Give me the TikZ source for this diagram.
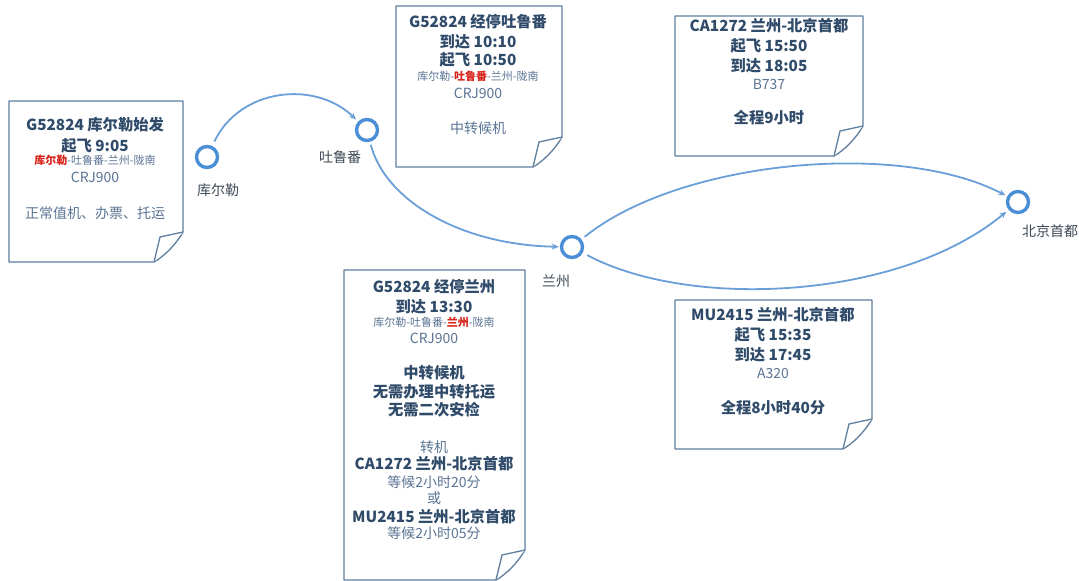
\documentclass[tikz,border=0pt]{standalone}
\usepackage{fontspec}
\setmainfont{Noto Sans CJK SC}
\usetikzlibrary{arrows.meta}
\definecolor{ring}{HTML}{4A8FD6}
\definecolor{link}{HTML}{6A9FD8}
\definecolor{frame}{HTML}{5E7E9E}
\definecolor{ttl}{HTML}{2F4B69}
\definecolor{reg}{HTML}{5A7494}
\definecolor{hot}{HTML}{D8231B}
\definecolor{lbl}{HTML}{3E4955}
\tikzset{
 station/.style={circle,draw=ring,line width=3.4pt,minimum size=21pt,inner sep=0pt,fill=white},
 place/.style={text=lbl,font=\fontsize{14}{16}\selectfont,inner sep=0pt},
 flow/.style={draw=link,line width=1.8pt,-{Stealth[length=7pt,width=6pt]}},
 note/.style={draw=frame,line width=1.3pt,fill=white,line join=round},
 bl/.style={anchor=base,inner sep=0pt,text=ttl,font=\fontsize{15.3}{17}\selectfont\bfseries},
 rl/.style={anchor=base,inner sep=0pt,text=reg,font=\fontsize{14}{16}\selectfont},
 sl/.style={anchor=base,inner sep=0pt,text=reg,font=\fontsize{11}{13}\selectfont},
}
\newcommand\notebox[4]{%
 \draw[note] (#1,#2) -- (#3,#2) -- (#3,#4-30) .. controls (#3-8,#4-16) and (#3-20,#4-5) .. (#3-29,#4) -- (#1,#4) -- cycle;
 \draw[note] (#3,#4-30) -- (#3-23,#4-25) -- (#3-29,#4);
}
\begin{document}
\begin{tikzpicture}[x=1pt,y=-1pt]
\useasboundingbox[fill=white] (0,0) rectangle (1079,581);

% note boxes
\notebox{9}{101}{183}{262}
\notebox{396}{6}{562}{167}
\notebox{675}{16}{863}{156}
\notebox{344}{270}{525}{580}
\notebox{675}{300}{872}{449}

% box 1
\node[bl] (a1) at (95,130.5) {G52824 库尔勒始发};
\node[bl] (a2) at (95,151.5) {起飞 9:05};
\node[sl] (a3) at (95,164) {{\color{hot}\bfseries 库尔勒}-吐鲁番-兰州-陇南};
\node[rl] (a4) at (95,182) {CRJ900};
\node[rl] (a5) at (95,218) {正常值机、办票、托运};

% box 2
\node[bl] (b1) at (478,27.5) {G52824 经停吐鲁番};
\node[bl] (b2) at (478,47.5) {到达 10:10};
\node[bl] (b3) at (478,65.5) {起飞 10:50};
\node[sl] (b4) at (478,80) {库尔勒-{\color{hot}\bfseries 吐鲁番}-兰州-陇南};
\node[rl] (b5) at (478,98) {CRJ900};
\node[rl] (b6) at (478,133) {中转候机};

% box 3
\node[bl] (c1) at (769,31.5) {CA1272 兰州-北京首都};
\node[bl] (c2) at (769,51.5) {起飞 15:50};
\node[bl] (c3) at (769,71.5) {到达 18:05};
\node[rl] (c4) at (769,89) {B737};
\node[bl] (c5) at (769,123.5) {全程9小时};

% box 4
\node[bl] (d1) at (434,292.5) {G52824 经停兰州};
\node[bl] (d2) at (434,312.5) {到达 13:30};
\node[sl] (d3) at (434,326) {库尔勒-吐鲁番-{\color{hot}\bfseries 兰州}-陇南};
\node[rl] (d4) at (434,343) {CRJ900};
\node[bl] (d5) at (434,378.5) {中转候机};
\node[bl] (d6) at (434,397.5) {无需办理中转托运};
\node[bl] (d7) at (434,415.5) {无需二次安检};
\node[rl] (d8) at (434,452) {转机};
\node[bl] (d9) at (434,469.5) {CA1272 兰州-北京首都};
\node[rl] (d10) at (434,487) {等候2小时20分};
\node[rl] (d11) at (434,503) {或};
\node[bl] (d12) at (434,522.5) {MU2415 兰州-北京首都};
\node[rl] (d13) at (434,538) {等候2小时05分};

% box 5
\node[bl] (e1) at (773,320.5) {MU2415 兰州-北京首都};
\node[bl] (e2) at (773,340.5) {起飞 15:35};
\node[bl] (e3) at (773,360.5) {到达 17:45};
\node[rl] (e4) at (773,378) {A320};
\node[bl] (e5) at (773,413.5) {全程8小时40分};

% stations
\node[station] (kel) at (207,157) {};
\node[station] (tlf) at (367,130) {};
\node[station] (lz) at (572,247) {};
\node[station] (bj) at (1018,202) {};
\node[place] (kelL) at (218,190) {库尔勒};
\node[place] (tlfL) at (340,157) {吐鲁番};
\node[place] (lzL) at (556,281) {兰州};
\node[place] (bjL) at (1050,231) {北京首都};

% connectors
\draw[flow,shorten <=5pt,shorten >=3pt] (kel) .. controls (240,88) and (315,80) .. (tlf);
\draw[flow,shorten <=3pt,shorten >=1pt] (tlf) .. controls (385,200) and (460,245) .. (lz);
\draw[flow,shorten <=4pt,shorten >=2pt] (lz) .. controls (680,160) and (900,140) .. (bj);
\draw[flow,shorten <=5pt,shorten >=3pt] (lz) .. controls (690,310) and (900,300) .. (bj);
\end{tikzpicture}
\end{document}
